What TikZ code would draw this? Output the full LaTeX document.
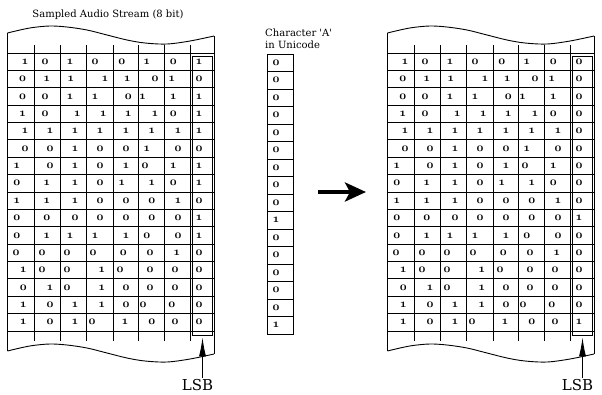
\documentclass[tikz,border=0pt]{standalone}
\usepackage{fontspec}
\newfontfamily\labelfont{DejaVu Serif}
\usetikzlibrary{arrows.meta}

% heavy old-style digits for the bit cells
\newcommand\bitglyph[1]{{\usefont{OML}{cmm}{b}{it}#1}}

% x position / value of the seven high-order bits of each sample
\def\samplebits{%
 {25/1,45/0,70/1,95/0,121.7/0,146.7/1,173.3/0},
 {22.7/0,46.7/1,70.7/1,105/1,127.3/1,155/0,171.7/1},
 {22.7/0,45/0,70/1,95/1,128.3/0,142.5/1,173.3/1},
 {22.7/1,45/0,77.3/1,103.3/1,128.3/1,155/1,173.3/0},
 {25/1,50/1,75/1,100/1,126/1,151.7/1,178/1},
 {25/0,50/0,75/1,100/0,126/0,146.7/1,178/0},
 {16.7/1,50/0,75/1,100/0,126/1,145/0,173.3/1},
 {16.7/0,46.7/1,75/1,100/0,121.7/1,151.7/1,173.3/0},
 {16.7/1,46.7/1,75/1,100/0,126/0,151.7/0,178/1},
 {16.7/0,46.7/0,75/0,100/0,126/0,151.7/0,178/0},
 {16.7/0,46.7/1,70/1,95/1,126/1,146.7/0,178/0},
 {16/0,42/0,67/0,93/0,123.3/0,150/0,176.7/1},
 {23.3/1,42/0,67/0,101.7/1,120/0,150/0,175/0},
 {23.3/0,50/1,67/0,101.7/1,126/0,150/0,175/0},
 {23.3/1,50/0,75/1,101.7/1,126/0,143/0,171.7/0},
 {23.3/1,50/0,75/1,92/0,125/1,151.7/0,175/0}}

\tikzset{
  edge/.style={line width=0.9pt, line join=round},
  rule/.style={line width=0.9pt},
  bit/.style={inner sep=0pt, font=\fontsize{12}{14}\selectfont},
  lsbbox/.style={draw, line width=0.9pt, inner sep=0pt,
                 minimum width=20pt, minimum height=279pt},
  lsblabel/.style={inner sep=1pt, font=\labelfont\fontsize{15}{17}\selectfont},
  lsbarrow/.style={line width=0.9pt, -{Latex[length=19pt,width=7pt]}},
  caption/.style={inner sep=0pt, font=\labelfont\fontsize{10}{12}\selectfont},
  unicell/.style={draw, line width=0.9pt, inner sep=0pt,
                  minimum width=26pt, minimum height=17.5pt},
  bigarrow/.style={line width=4pt, -{Stealth[length=21pt,width=19pt,inset=5pt]}},
}

% torn upper edge of a stream strip
\newcommand\tornedge{%
  \draw[edge] plot[smooth,tension=0.55] coordinates {
    (7.5,33) (20,30) (33,27.5) (50,26) (67,27) (87,30) (107,35)
    (127,40) (145,43) (167,44) (190,41) (214,36)};}

% one stream strip: #1 name prefix, #2 horizontal offset, #3 LSB column
\newcommand\streamblock[3]{%
\begin{scope}[xshift=#2]
  \tornedge
  \begin{scope}[yshift=-318pt]\tornedge\end{scope}
  \draw[edge] (7.5,33) -- (7.5,351);
  \draw[edge] (214,36) -- (214,354);
  \foreach \x in {34,60,86,113,138,164,190}
    \draw[rule] (\x,45) -- (\x,341);
  \foreach \k in {0,...,16}
    \draw[rule] (7.5,{53+\k*17.375}) -- (214,{53+\k*17.375});
  \foreach \row [count=\r] in \samplebits {
    \pgfmathsetmacro\ry{53+(\r-0.5)*17.375}
    \foreach \px/\b [count=\c] in \row
      \node[bit] (#1-\r-\c) at (\px,\ry) {\bitglyph{\b}};
  }
  \foreach \b [count=\r] in {#3} {
    \pgfmathsetmacro\ry{53+(\r-0.5)*17.375}
    \node[bit] (#1-\r-8) at (199,\ry) {\bitglyph{\b}};
  }
  \node[lsbbox] (#1-lsb) at (202.5,195.5) {};
  \node[lsblabel] (#1-lsbtext) at (197.5,385) {LSB};
  \draw[lsbarrow] (#1-lsb.south |- #1-lsbtext.north) -- ([yshift=-2pt]#1-lsb.south);
\end{scope}}

\begin{document}
\begin{tikzpicture}[x=1pt,y=-1pt]
  \useasboundingbox (0,0) rectangle (602,394);
  \fill[white] (0,0) rectangle (602,394);

  \node[caption] (title) at (108,15) {Sampled Audio Stream (8 bit)};

  % original samples
  \streamblock{src}{0pt}{1,0,1,1,1,0,1,1,0,1,1,0,0,0,0,0}

  % the character to hide, one bit per sample
  \node[caption, anchor=west] (charA) at (265,32.5) {Character \textquotesingle A\textquotesingle};
  \node[caption, anchor=west] (inuni) at (265,45) {in Unicode};
  \foreach \b [count=\r] in {0,0,0,0,0,0,0,0,0,1,0,0,0,0,0,1} {
    \pgfmathsetmacro\ry{54+(\r-0.5)*17.5}
    \node[unicell] (u-\r) at (280,\ry) {};
    \node[bit] (ub-\r) at (276,\ry) {\bitglyph{\b}};
  }

  % embedding step
  \coordinate (steptail) at (318,192);
  \coordinate (stephead) at (366,192);
  \draw[bigarrow] (steptail) -- (stephead);

  % samples carrying the character in their LSBs
  \streamblock{dst}{380pt}{0,0,0,0,0,0,0,0,0,1,0,0,0,0,0,1}
\end{tikzpicture}
\end{document}
